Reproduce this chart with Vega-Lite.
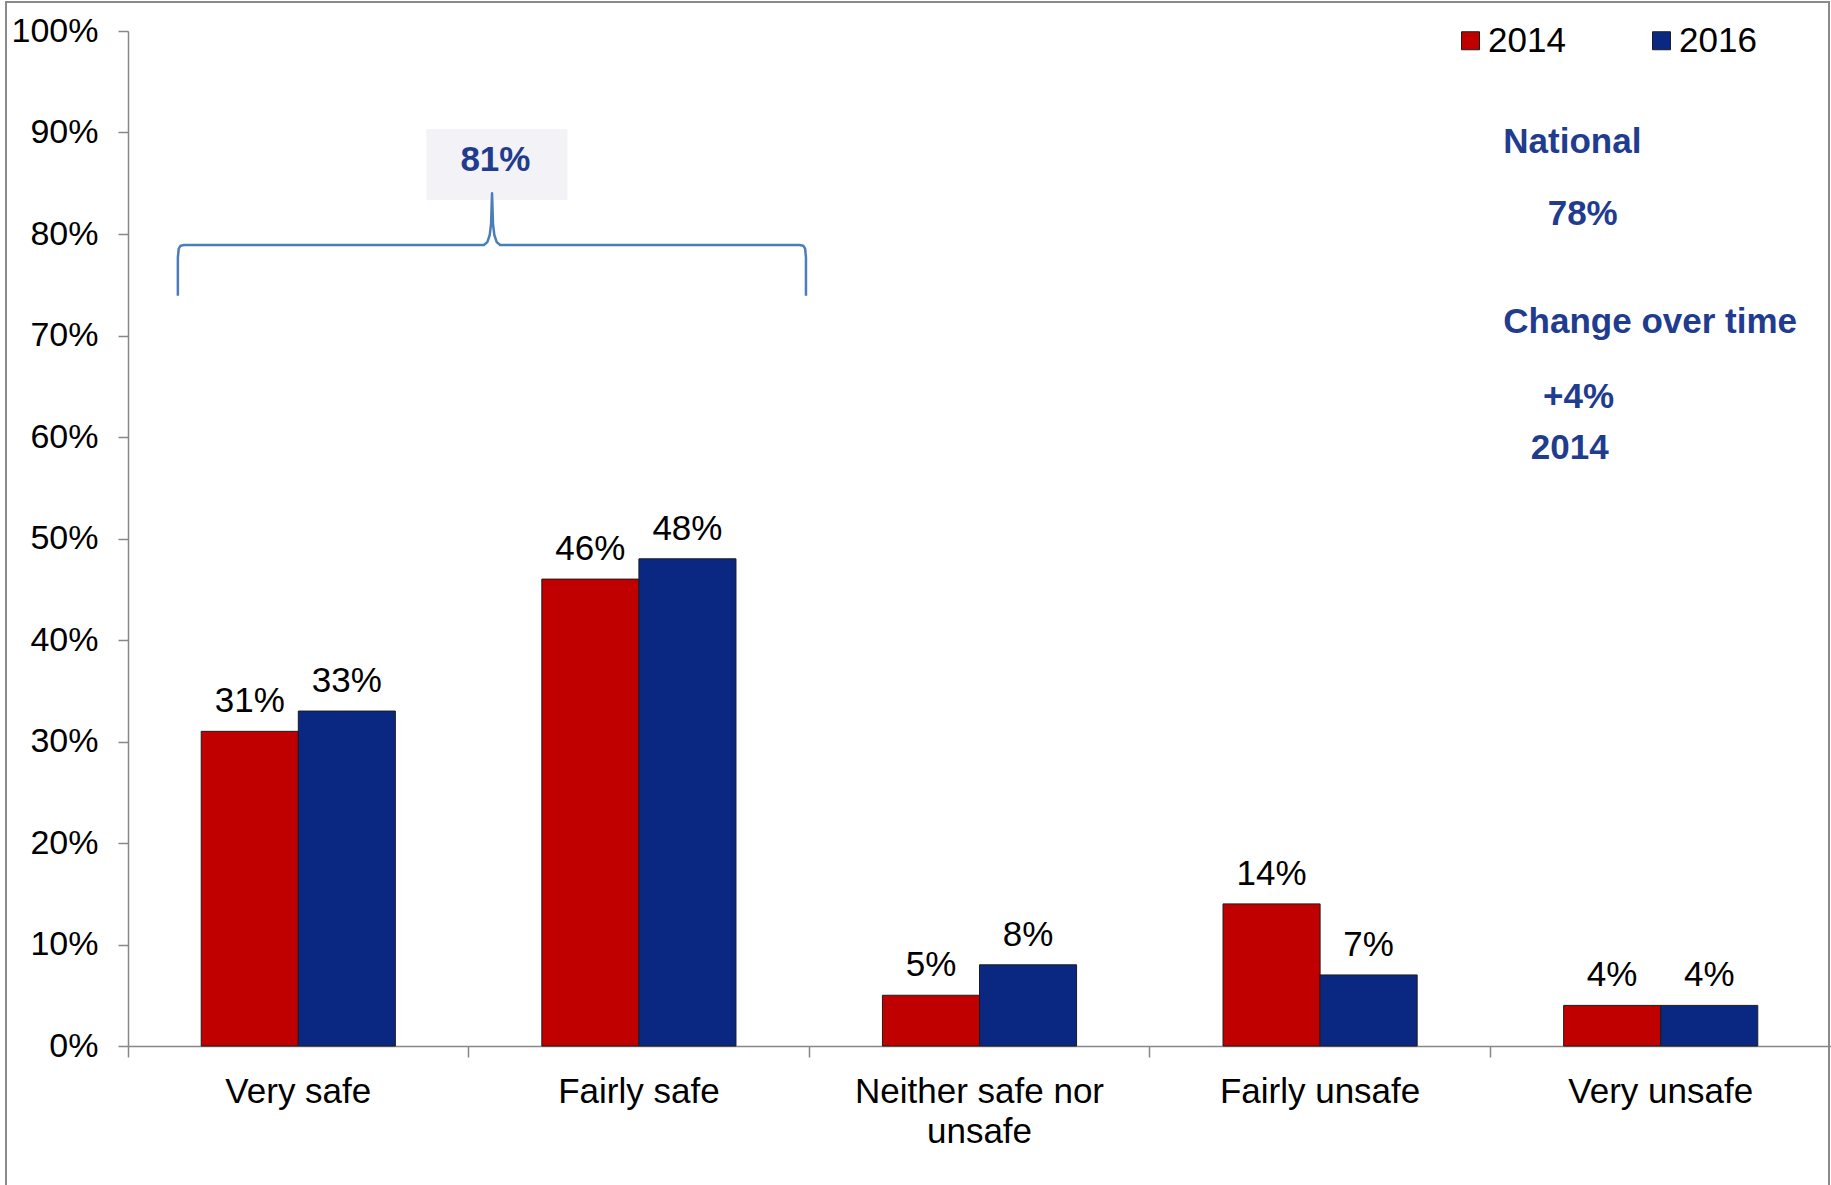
{
  "$schema": "https://vega.github.io/schema/vega-lite/v6.json",
  "width": 1823,
  "height": 1190,
  "autosize": "none",
  "padding": {"left": 6, "top": 2, "right": 2, "bottom": 0},
  "background": "#ffffff",
  "config": {
    "font": "Liberation Sans",
    "view": {"stroke": "#8a8a8a", "strokeWidth": 2},
    "axis": {
      "grid": false,
      "title": null,
      "domainColor": "#878787",
      "tickColor": "#878787",
      "domainWidth": 1.5,
      "tickWidth": 1.5,
      "labelColor": "#000000",
      "labelFont": "Liberation Sans",
      "labelFontSize": 34,
      "labelLimit": 500
    }
  },
  "resolve": {"scale": {"x": "independent"}},
  "layer": [
    {
      "data": {
        "values": [
          {"category": "Very safe", "year": "2014", "pct": 0.31},
          {"category": "Very safe", "year": "2016", "pct": 0.33},
          {"category": "Fairly safe", "year": "2014", "pct": 0.46},
          {"category": "Fairly safe", "year": "2016", "pct": 0.48},
          {"category": "Neither safe nor unsafe", "year": "2014", "pct": 0.05},
          {"category": "Neither safe nor unsafe", "year": "2016", "pct": 0.08},
          {"category": "Fairly unsafe", "year": "2014", "pct": 0.14},
          {"category": "Fairly unsafe", "year": "2016", "pct": 0.07},
          {"category": "Very unsafe", "year": "2014", "pct": 0.04},
          {"category": "Very unsafe", "year": "2016", "pct": 0.04}
        ]
      },
      "encoding": {
        "x": {
          "field": "category",
          "type": "nominal",
          "sort": ["Very safe", "Fairly safe", "Neither safe nor unsafe", "Fairly unsafe", "Very unsafe"],
          "scale": {"range": [122, 1825], "paddingInner": 0.43, "paddingOuter": 0.215},
          "axis": {
            "orient": "bottom",
            "offset": -146,
            "tickSize": 11,
            "bandPosition": -0.377,
            "labelPadding": 17,
            "labelAngle": 0,
            "labelFontSize": 35,
            "labelLineHeight": 40,
            "labelExpr": "datum.value == 'Neither safe nor unsafe' ? ['Neither safe nor', 'unsafe'] : datum.value"
          }
        },
        "xOffset": {"field": "year", "type": "nominal", "sort": ["2014", "2016"]},
        "y": {
          "field": "pct",
          "type": "quantitative",
          "scale": {"domain": [0, 1], "range": [1044, 29], "nice": false, "zero": true},
          "axis": {
            "orient": "left",
            "offset": -122,
            "tickSize": 10,
            "labelPadding": 20,
            "values": [0, 0.1, 0.2, 0.3, 0.4, 0.5, 0.6, 0.7, 0.8, 0.9, 1],
            "format": ".0%"
          }
        }
      },
      "layer": [
        {
          "mark": {"type": "bar", "stroke": "#1c1c1c", "strokeWidth": 1},
          "encoding": {
            "fill": {
              "field": "year",
              "type": "nominal",
              "scale": {"domain": ["2014", "2016"], "range": ["#C00000", "#0A2882"]},
              "legend": {
                "orient": "none",
                "legendX": 1447,
                "legendY": 21,
                "direction": "horizontal",
                "columns": 2,
                "title": null,
                "padding": 0,
                "symbolType": "square",
                "symbolSize": 324,
                "symbolStrokeColor": "#1c1c1c",
                "symbolStrokeWidth": 1,
                "labelFont": "Liberation Sans",
                "labelFontSize": 35,
                "labelColor": "#000000",
                "labelOffset": 0,
                "columnPadding": 78
              }
            }
          }
        },
        {
          "mark": {"type": "text", "fontSize": 35, "dy": -19, "baseline": "alphabetic", "align": "center", "color": "#000000"},
          "encoding": {
            "text": {"field": "pct", "type": "quantitative", "format": ".0%"}
          }
        }
      ]
    },
    {
      "layer": [
        {
          "data": {"values": [{"box": "81%"}]},
          "mark": {"type": "rect", "color": "#F2F2F7"},
          "encoding": {
            "x": {"datum": 0.876, "type": "quantitative", "scale": {"domain": [0, 5], "range": [122, 1825], "nice": false, "zero": false}, "axis": null},
            "x2": {"datum": 1.29},
            "y": {"datum": 0.8335, "type": "quantitative"},
            "y2": {"datum": 0.9034}
          }
        },
        {
          "data": {
            "values": [
              {"i": 1, "u": 0.1464, "v": 0.7392},
              {"i": 2, "u": 0.1464, "v": 0.777},
              {"i": 3, "u": 0.149, "v": 0.7855},
              {"i": 4, "u": 0.1545, "v": 0.7885},
              {"i": 5, "u": 0.165, "v": 0.7892},
              {"i": 6, "u": 1.045, "v": 0.7892},
              {"i": 7, "u": 1.055, "v": 0.792},
              {"i": 8, "u": 1.062, "v": 0.799},
              {"i": 9, "u": 1.066, "v": 0.81},
              {"i": 10, "u": 1.0688, "v": 0.8401},
              {"i": 11, "u": 1.0716, "v": 0.81},
              {"i": 12, "u": 1.0756, "v": 0.799},
              {"i": 13, "u": 1.0826, "v": 0.792},
              {"i": 14, "u": 1.0926, "v": 0.7892},
              {"i": 15, "u": 1.972, "v": 0.7892},
              {"i": 16, "u": 1.9825, "v": 0.7885},
              {"i": 17, "u": 1.988, "v": 0.7855},
              {"i": 18, "u": 1.9905, "v": 0.777},
              {"i": 19, "u": 1.9905, "v": 0.7392}
            ]
          },
          "mark": {"type": "line", "color": "#4A7EBB", "strokeWidth": 2.5, "strokeJoin": "round"},
          "encoding": {
            "x": {"field": "u", "type": "quantitative"},
            "y": {"field": "v", "type": "quantitative"},
            "order": {"field": "i", "type": "quantitative"}
          }
        },
        {
          "data": {"values": [{"note": "81%", "u": 1.0788, "v": 0.8624}]},
          "mark": {"type": "text", "fontSize": 35, "fontWeight": "bold", "color": "#1F3C8F", "align": "center", "baseline": "alphabetic"},
          "encoding": {
            "x": {"field": "u", "type": "quantitative"},
            "y": {"field": "v", "type": "quantitative"},
            "text": {"field": "note"}
          }
        },
        {
          "data": {
            "values": [
              {"note": "National", "u": 4.038, "v": 0.88},
              {"note": "Change over time", "u": 4.038, "v": 0.7025}
            ]
          },
          "mark": {"type": "text", "fontSize": 35, "fontWeight": "bold", "color": "#1F3C8F", "align": "left", "baseline": "alphabetic"},
          "encoding": {
            "x": {"field": "u", "type": "quantitative"},
            "y": {"field": "v", "type": "quantitative"},
            "text": {"field": "note"}
          }
        },
        {
          "data": {
            "values": [
              {"note": "78%", "u": 4.271, "v": 0.809},
              {"note": "+4%", "u": 4.259, "v": 0.6286},
              {"note": "2014", "u": 4.233, "v": 0.5783}
            ]
          },
          "mark": {"type": "text", "fontSize": 35, "fontWeight": "bold", "color": "#1F3C8F", "align": "center", "baseline": "alphabetic"},
          "encoding": {
            "x": {"field": "u", "type": "quantitative"},
            "y": {"field": "v", "type": "quantitative"},
            "text": {"field": "note"}
          }
        }
      ]
    }
  ]
}
